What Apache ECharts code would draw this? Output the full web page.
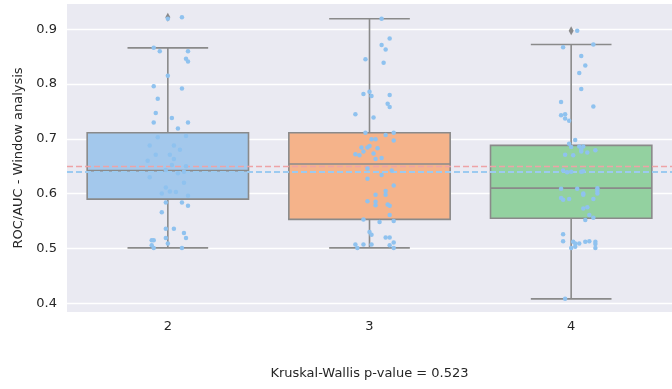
<!DOCTYPE html>
<html>
<head>
<meta charset="utf-8">
<script src="https://cdn.jsdelivr.net/npm/echarts@6/dist/echarts.min.js"></script>
<style>
  html, body { margin: 0; padding: 0; background: #fff; }
  #chart { width: 672px; height: 389px; }
</style>
</head>
<body>
<div id="chart"></div>
<script>
// group labels and box statistics (whisker low, Q1, median, Q3, whisker high)
const categories = ['2', '3', '4'];
const whiskerLow = [0.501, 0.501, 0.408];
const q1 = [0.590, 0.553, 0.555];
const medians = [0.642, 0.654, 0.610];
const q3 = [0.711, 0.711, 0.688];
const whiskerHigh = [0.866, 0.919, 0.872];
const flierGroups = [0, 2];
const flierValues = [0.922, 0.897];
const boxColors = ['#a3c8ec', '#f5b38a', '#93d1a0'];

const refRed = 0.6487;
const refBlue = 0.640;
const yTicks = [0.4, 0.5, 0.6, 0.7, 0.8, 0.9];

// strip points: values and horizontal jitter (in category units)
const auc2 = [0.919, 0.922, 0.866, 0.860, 0.860, 0.846, 0.841, 0.815, 0.796, 0.792, 0.773, 0.747, 0.738, 0.730, 0.730, 0.719, 0.703, 0.705, 0.688, 0.688, 0.680, 0.671, 0.671, 0.663, 0.660, 0.652, 0.650, 0.643, 0.637, 0.640, 0.630, 0.620, 0.611, 0.603, 0.604, 0.600, 0.596, 0.584, 0.584, 0.578, 0.566, 0.536, 0.536, 0.528, 0.519, 0.519, 0.515, 0.515, 0.509, 0.506, 0.501, 0.501];
const jitter2 = [0.00, 0.07, -0.07, -0.04, 0.10, 0.09, 0.10, 0.00, -0.07, 0.07, -0.05, -0.06, 0.02, -0.07, 0.10, 0.05, -0.05, 0.09, -0.09, 0.03, 0.06, -0.06, 0.01, 0.03, -0.10, 0.02, 0.09, -0.01, 0.05, 0.08, -0.09, 0.08, -0.01, 0.04, 0.01, -0.03, 0.10, -0.01, 0.07, 0.10, -0.03, -0.01, 0.03, 0.08, 0.09, -0.01, -0.08, -0.07, 0.00, -0.08, -0.07, 0.07];
const auc3 = [0.919, 0.883, 0.871, 0.863, 0.845, 0.839, 0.786, 0.782, 0.778, 0.780, 0.764, 0.758, 0.745, 0.739, 0.711, 0.711, 0.707, 0.699, 0.699, 0.697, 0.684, 0.687, 0.684, 0.683, 0.677, 0.673, 0.672, 0.670, 0.665, 0.663, 0.646, 0.642, 0.634, 0.627, 0.615, 0.605, 0.598, 0.598, 0.586, 0.585, 0.579, 0.580, 0.578, 0.561, 0.553, 0.548, 0.550, 0.530, 0.525, 0.520, 0.520, 0.511, 0.507, 0.507, 0.507, 0.506, 0.501, 0.501];
const jitter3 = [0.06, 0.10, 0.06, 0.08, -0.02, 0.07, 0.00, -0.03, 0.01, 0.10, 0.09, 0.10, -0.07, 0.02, -0.02, 0.12, 0.08, 0.01, 0.03, 0.12, -0.04, 0.00, -0.01, 0.04, -0.03, 0.02, -0.07, -0.05, 0.06, 0.03, -0.01, 0.11, 0.06, -0.01, 0.12, 0.08, 0.03, 0.08, -0.01, 0.03, 0.03, 0.09, 0.10, 0.10, -0.03, 0.05, 0.12, 0.00, 0.01, 0.08, 0.10, 0.12, -0.07, -0.03, 0.01, 0.10, -0.06, 0.12];
const auc4 = [0.897, 0.872, 0.867, 0.851, 0.834, 0.820, 0.791, 0.767, 0.759, 0.745, 0.743, 0.737, 0.733, 0.698, 0.691, 0.685, 0.686, 0.686, 0.680, 0.677, 0.679, 0.675, 0.671, 0.670, 0.642, 0.639, 0.640, 0.640, 0.641, 0.609, 0.609, 0.610, 0.605, 0.600, 0.598, 0.600, 0.592, 0.589, 0.590, 0.590, 0.575, 0.573, 0.561, 0.556, 0.552, 0.526, 0.513, 0.512, 0.509, 0.509, 0.512, 0.513, 0.512, 0.508, 0.501, 0.503, 0.501, 0.408];
const jitter4 = [0.03, 0.11, -0.04, 0.05, 0.07, 0.04, 0.05, -0.05, 0.11, -0.03, -0.05, -0.03, -0.01, 0.02, -0.01, 0.00, 0.04, 0.06, 0.05, 0.05, 0.12, 0.08, -0.03, 0.01, -0.04, -0.02, 0.00, 0.05, 0.06, -0.05, 0.03, 0.13, 0.13, 0.06, 0.06, 0.13, -0.05, -0.04, -0.01, 0.11, 0.08, 0.06, 0.09, 0.11, 0.07, -0.04, -0.04, 0.01, 0.02, 0.04, 0.07, 0.09, 0.12, 0.12, 0.00, 0.02, 0.12, -0.03];

const stripGroups = [[auc2, jitter2], [auc3, jitter3], [auc4, jitter4]];
const stripData = [];
stripGroups.forEach(([vals, jit], i) => {
  vals.forEach((v, k) => stripData.push([i + jit[k], v]));
});

const boxData = categories.map((_, i) => [i, whiskerLow[i], q1[i], medians[i], q3[i], whiskerHigh[i]]);
const flierData = flierGroups.map((g, k) => [g, flierValues[k]]);

const edge = '#8a8a8a';
const font = 'DejaVu Sans';

function renderBox(params, api) {
  const i = api.value(0);
  const w = api.size([0.8, 0])[0];
  const cx = api.coord([i, 0])[0];
  const y = (d) => api.coord([i, api.value(d)])[1];
  const yLo = y(1), yQ1 = y(2), yMed = y(3), yQ3 = y(4), yHi = y(5);
  const line = { stroke: edge, lineWidth: 1.6 };
  return {
    type: 'group',
    children: [
      { type: 'line', shape: { x1: cx, y1: yLo, x2: cx, y2: yQ1 }, style: line },
      { type: 'line', shape: { x1: cx, y1: yQ3, x2: cx, y2: yHi }, style: line },
      { type: 'line', shape: { x1: cx - w / 4, y1: yLo, x2: cx + w / 4, y2: yLo }, style: line },
      { type: 'line', shape: { x1: cx - w / 4, y1: yHi, x2: cx + w / 4, y2: yHi }, style: line },
      { type: 'rect', shape: { x: cx - w / 2, y: yQ3, width: w, height: yQ1 - yQ3 },
        style: { fill: boxColors[i], stroke: edge, lineWidth: 1.6 } },
      { type: 'line', shape: { x1: cx - w / 2, y1: yMed, x2: cx + w / 2, y2: yMed }, style: line }
    ]
  };
}

const chart = echarts.init(document.getElementById('chart'), null, { renderer: 'canvas' });
chart.setOption({
  animation: false,
  textStyle: { fontFamily: font },
  grid: {
    left: 67, right: 0, top: 4, bottom: 77,
    show: true, backgroundColor: '#eaeaf2', borderWidth: 0
  },
  xAxis: {
    type: 'value', min: -0.5, max: 2.5,
    name: 'Kruskal-Wallis p-value = 0.523',
    nameLocation: 'middle', nameGap: 55,
    nameTextStyle: { color: '#262626', fontSize: 13, fontFamily: font },
    axisLine: { show: false },
    axisTick: { show: false, customValues: [0, 1, 2] },
    splitLine: { show: false },
    axisLabel: {
      customValues: [0, 1, 2],
      formatter: (v) => categories[Math.round(v)],
      color: '#262626', fontSize: 13, margin: 8, fontFamily: font
    }
  },
  yAxis: {
    type: 'value', min: 0.384, max: 0.946,
    name: 'ROC/AUC - Window analysis',
    nameLocation: 'middle', nameGap: 40,
    nameTextStyle: { color: '#262626', fontSize: 13, fontFamily: font },
    axisLine: { show: false },
    axisTick: { show: false, customValues: yTicks },
    axisLabel: {
      customValues: yTicks,
      formatter: (v) => v.toFixed(1),
      color: '#262626', fontSize: 13, margin: 10, fontFamily: font
    },
    splitLine: { show: true, lineStyle: { color: '#ffffff', width: 1.3 } }
  },
  series: [
    {
      type: 'custom', name: 'box', renderItem: renderBox, data: boxData, z: 2,
      encode: { x: 0, y: [1, 2, 3, 4, 5] }
    },
    {
      type: 'scatter', name: 'fliers', data: flierData, z: 3,
      symbol: 'diamond', symbolSize: [5, 9],
      itemStyle: { color: '#6f6f6f' }
    },
    {
      type: 'line', name: 'refs', data: [], z: 4,
      markLine: {
        symbol: 'none', silent: true, label: { show: false },
        data: [
          { yAxis: refRed, lineStyle: { color: '#eea3a6', type: [6, 3], width: 1.4 } },
          { yAxis: refBlue, lineStyle: { color: '#9ccaf0', type: [6, 3], width: 1.8 } }
        ]
      }
    },
    {
      type: 'scatter', name: 'points', data: stripData, z: 5,
      symbolSize: 4.5,
      itemStyle: { color: '#8fc2ef', opacity: 1 }
    }
  ]
});
</script>
</body>
</html>
